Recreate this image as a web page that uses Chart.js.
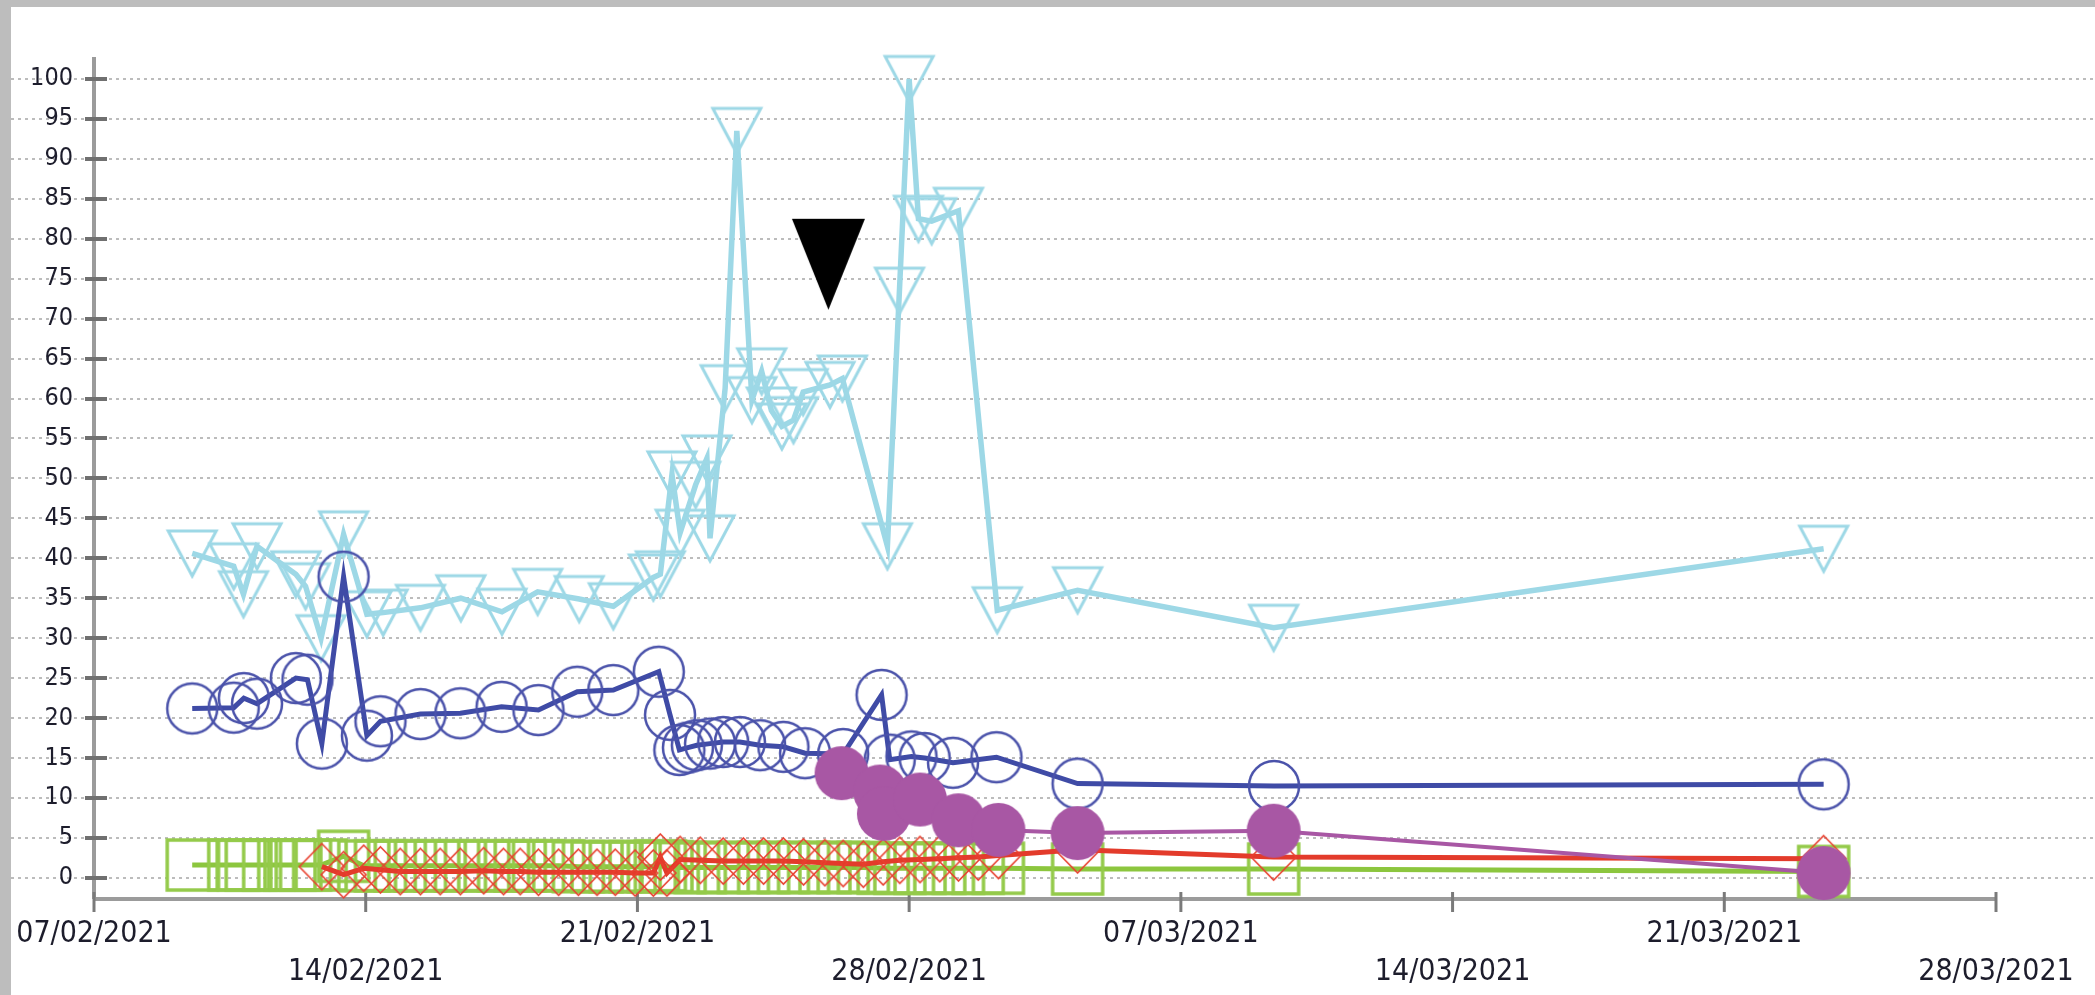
<!DOCTYPE html>
<html><head><meta charset="utf-8">
<script src="https://cdn.jsdelivr.net/npm/chart.js@4.4.1/dist/chart.umd.min.js"></script>
<style>
html,body{margin:0;padding:0;background:#fff;overflow:hidden}
#wrap{position:absolute;left:0;top:0;width:2095px;height:995px}
</style></head><body>
<div id="wrap"><canvas id="c" width="2095" height="995"></canvas></div>
<script>
// x values are days after 07/02/2021
const tickLabels = ['07/02/2021','14/02/2021','21/02/2021','28/02/2021','07/03/2021','14/03/2021','21/03/2021','28/03/2021'];

const lightBlueDays = [2.53, 3.60, 3.85, 4.20, 5.20, 5.45, 5.85, 6.43, 7.03, 7.45, 8.41, 9.45, 10.51, 11.43, 12.50, 13.38, 14.41, 14.59, 14.89, 15.10, 15.50, 15.79, 15.87, 16.26, 16.56, 16.95, 17.20, 17.45, 17.72, 18.02, 18.27, 18.96, 19.28, 20.44, 20.75, 21.00, 21.24, 21.58, 22.27, 23.27, 25.34, 30.39, 44.56];
const lightBlueValues = [40.6, 39.0, 35.5, 41.5, 38.0, 36.5, 30.0, 43.0, 33.0, 33.2, 33.8, 35.0, 33.3, 35.8, 34.9, 34.0, 37.6, 38.0, 50.5, 43.2, 49.2, 52.5, 42.5, 61.3, 93.5, 59.8, 63.4, 58.5, 56.5, 57.3, 60.8, 61.7, 62.5, 41.5, 73.5, 100, 82.5, 82.2, 83.5, 33.5, 36.0, 31.3, 41.2];

const darkBlueDays = [2.53, 3.60, 3.86, 4.20, 5.20, 5.50, 5.87, 6.43, 7.03, 7.38, 8.41, 9.44, 10.50, 11.45, 12.45, 13.38, 14.55, 14.84, 15.08, 15.30, 15.53, 15.87, 16.21, 16.64, 17.16, 17.76, 18.32, 19.30, 20.29, 20.50, 21.06, 21.40, 22.13, 23.25, 25.34, 30.40, 44.56];
const darkBlueValues = [21.2, 21.3, 22.5, 21.8, 25.0, 24.8, 16.8, 37.7, 17.8, 19.6, 20.5, 20.6, 21.4, 21.0, 23.3, 23.5, 25.8, 20.4, 16.0, 16.3, 16.6, 16.8, 17.0, 17.0, 16.6, 16.4, 15.6, 15.5, 22.9, 14.8, 15.2, 15.0, 14.4, 15.1, 11.8, 11.5, 11.7];

const purpleDays = [19.26, 20.25, 20.35, 21.28, 22.27, 23.30, 25.34, 30.39, 44.56];
const purpleValues = [13.1, 10.8, 8.0, 9.8, 7.2, 6.0, 5.6, 5.9, 0.6];

const redDays = [5.87, 6.43, 6.95, 7.38, 7.89, 8.41, 8.92, 9.44, 10.04, 10.55, 10.98, 11.45, 11.97, 12.48, 12.96, 13.43, 13.94, 14.41, 14.59, 14.76, 15.10, 15.62, 16.21, 16.73, 17.25, 17.76, 18.28, 18.83, 19.30, 19.82, 20.33, 20.76, 21.28, 21.79, 22.27, 22.78, 23.30, 25.34, 30.39, 44.56];
const redValues = [1.4, 0.4, 1.2, 1.0, 0.8, 0.8, 0.8, 0.8, 0.9, 0.8, 0.8, 0.7, 0.7, 0.7, 0.7, 0.7, 0.6, 0.6, 2.6, 0.6, 2.3, 2.2, 2.1, 2.1, 2.1, 2.1, 2.0, 1.9, 1.8, 1.7, 2.0, 2.2, 2.3, 2.4, 2.5, 2.6, 2.8, 3.5, 2.6, 2.4];

const greenDays = [2.53, 3.60, 3.85, 4.05, 4.50, 5.05, 5.20, 5.45, 5.85, 6.43, 6.95, 7.38, 7.89, 8.41, 8.92, 9.44, 10.04, 10.55, 10.98, 11.45, 11.97, 12.48, 12.96, 13.43, 13.94, 14.41, 14.59, 14.76, 15.10, 15.62, 16.21, 16.73, 17.25, 17.76, 18.28, 18.83, 19.30, 19.82, 20.33, 20.76, 21.28, 21.79, 22.27, 22.78, 23.30, 25.34, 30.39, 44.56];
const greenValues = [1.6, 1.6, 1.6, 1.6, 1.6, 1.6, 1.6, 1.6, 1.6, 2.7, 1.5, 1.5, 1.5, 1.5, 1.5, 1.5, 1.5, 1.5, 1.5, 1.5, 1.5, 1.4, 1.4, 1.4, 1.4, 1.4, 1.5, 1.4, 1.3, 1.3, 1.3, 1.3, 1.3, 1.3, 1.3, 1.3, 1.3, 1.3, 1.2, 1.2, 1.2, 1.2, 1.2, 1.2, 1.2, 1.1, 1.1, 0.8];

const blackMarkerDays = [18.92];
const blackMarkerValues = [76.8];

function pts(xs, ys) { return xs.map((d, i) => ({x: d, y: ys[i]})); }

function marker(shape, w, h, stroke, fill, lw) {
  const pad = Math.ceil(lw || 0) + 2;
  const c = document.createElement('canvas');
  c.width = w + 2 * pad; c.height = h + 2 * pad;
  const g = c.getContext('2d');
  g.translate(pad, pad);
  g.beginPath();
  if (shape === 'tri') { g.moveTo(0, 0); g.lineTo(w, 0); g.lineTo(w / 2, h); g.closePath(); }
  else if (shape === 'diamond') { g.moveTo(w / 2, 0); g.lineTo(w, h / 2); g.lineTo(w / 2, h); g.lineTo(0, h / 2); g.closePath(); }
  else if (shape === 'square') { g.rect(0, 0, w, h); }
  else { g.ellipse(w / 2, h / 2, w / 2, h / 2, 0, 0, Math.PI * 2); }
  if (fill) { g.fillStyle = fill; g.fill(); }
  if (stroke) { g.lineWidth = lw; g.strokeStyle = stroke; g.stroke(); }
  return c;
}

const C = {
  light: '#9dd8e6', dark: '#3f4ba6', darkMk: '#4a52aa', purple: '#a857a4',
  red: '#e33b2b', redMk: '#e8402f', green: '#8cc63e', greenMk: '#94ca4a'
};

const mkTri = marker('tri', 48, 45, C.light, null, 3);
const mkCircle = marker('circle', 50, 50, C.darkMk, null, 2.5);
const mkDot = marker('circle', 54, 54, null, C.purple, 0);
const mkDiamond = marker('diamond', 45, 46, C.redMk, null, 1.6);
const mkSquare = marker('square', 50, 50, C.greenMk, null, 3.5);
const mkBlack = marker('tri', 73, 91, null, '#000', 0);

const FONT = '"DejaVu Sans Condensed", "DejaVu Sans", Verdana, sans-serif';

const axesPlugin = {
  id: 'axesPlugin',
  beforeDraw(chart) {
    const {ctx, width, height} = chart;
    const y = chart.scales.y;
    ctx.save();
    ctx.fillStyle = '#fff'; ctx.fillRect(0, 0, width, height);
    ctx.fillStyle = '#bdbdbd'; ctx.fillRect(0, 0, width, 7); ctx.fillRect(0, 0, 11, height);
    ctx.strokeStyle = '#bcbcbc'; ctx.lineWidth = 2; ctx.setLineDash([3, 4]);
    y.ticks.forEach(t => {
      const py = Math.round(y.getPixelForValue(t.value));
      ctx.beginPath(); ctx.moveTo(11, py); ctx.lineTo(width, py); ctx.stroke();
    });
    ctx.restore();
  },
  beforeDatasetsDraw(chart) {
    const {ctx, chartArea: a} = chart;
    const x = chart.scales.x, y = chart.scales.y;
    ctx.save();
    ctx.strokeStyle = '#9b9b9b'; ctx.lineWidth = 4;
    ctx.beginPath(); ctx.moveTo(a.left, a.top); ctx.lineTo(a.left, a.bottom); ctx.stroke();
    ctx.beginPath(); ctx.moveTo(a.left, a.bottom); ctx.lineTo(a.right, a.bottom); ctx.stroke();
    ctx.strokeStyle = '#707070'; ctx.lineWidth = 4;
    y.ticks.forEach(t => {
      const py = Math.round(y.getPixelForValue(t.value));
      ctx.beginPath(); ctx.moveTo(a.left - 9, py); ctx.lineTo(a.left + 13, py); ctx.stroke();
    });
    ctx.strokeStyle = '#7a7a7a'; ctx.lineWidth = 3;
    x.ticks.forEach(t => {
      const px = x.getPixelForValue(t.value);
      ctx.beginPath(); ctx.moveTo(px, a.bottom - 7); ctx.lineTo(px, a.bottom + 13); ctx.stroke();
    });
    ctx.restore();
  }
};

function ds(label, data, color, width, mk, order, showLine = true) {
  return {
    label, data, borderColor: color, borderWidth: width, showLine,
    pointStyle: mk, pointRadius: 25, pointHoverRadius: 25,
    backgroundColor: 'transparent', tension: 0, clip: false, order
  };
}

new Chart(document.getElementById('c'), {
  type: 'line',
  data: {
    datasets: [
      ds('green', pts(greenDays, greenValues), C.green, 5, mkSquare, 6),
      ds('red', pts(redDays, redValues), C.red, 5, mkDiamond, 5),
      ds('lightblue', pts(lightBlueDays, lightBlueValues), C.light, 5.5, mkTri, 4),
      ds('darkblue', pts(darkBlueDays, darkBlueValues), C.dark, 5, mkCircle, 3),
      ds('purple', pts(purpleDays, purpleValues), C.purple, 4, mkDot, 2),
      ds('marker', pts(blackMarkerDays, blackMarkerValues), '#000', 0, mkBlack, 1, false)
    ]
  },
  options: {
    responsive: false, animation: false, events: [],
    layout: {padding: {left: 0, top: 57, right: 99, bottom: 0}},
    plugins: {legend: {display: false}, tooltip: {enabled: false}},
    scales: {
      x: {
        type: 'linear', min: 0, max: 49,
        grid: {display: false, drawTicks: false}, border: {display: false},
        ticks: {
          stepSize: 7, includeBounds: false, autoSkip: false, maxRotation: 0, minRotation: 0,
          padding: 16, color: '#1d1d2c',
          font: {family: FONT, size: 30, lineHeight: '38px'},
          callback: (v) => { const i = Math.round(v / 7); return i % 2 === 0 ? [tickLabels[i], ''] : ['', tickLabels[i]]; }
        },
        afterFit: (s) => { s.height = 96; }
      },
      y: {
        type: 'linear', min: -2.65, max: 102.75,
        grid: {display: false, drawTicks: false}, border: {display: false},
        ticks: {
          stepSize: 5, includeBounds: false, padding: 21, color: '#1d1d2c',
          font: {family: FONT, size: 25}
        },
        afterFit: (s) => { s.width = 94; }
      }
    }
  },
  plugins: [axesPlugin]
});
</script>
</body></html>
